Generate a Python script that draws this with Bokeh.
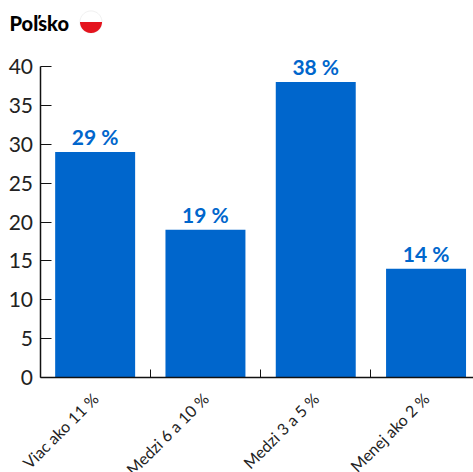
import math
from bokeh.plotting import figure
from bokeh.models import FixedTicker, Range1d, ColumnDataSource, LabelSet, PolyAnnotation, Label
from bokeh.core.properties import value
from bokeh.embed import file_html
from bokeh.resources import INLINE

categories = ["Viac ako 11 %", "Medzi 6 a 10 %", "Medzi 3 a 5 %", "Menej ako 2 %"]
values = [29, 19, 38, 14]
value_labels = ["29 %", "19 %", "38 %", "14 %"]
y_ticks = [0, 5, 10, 15, 20, 25, 30, 35, 40]
title = "Poľsko"

W, H = 473, 472
X0, Y0 = 39.5, 377        # pixel position of the axes' origin
BAND, UNIT = 110.3, 7.775 # pixels per category, pixels per y unit
centers = [i + 0.5 for i in range(len(categories))]
bounds = [1, 2, 3]

p = figure(width=W, height=H, output_backend="svg", toolbar_location=None,
           x_range=Range1d(-X0 / BAND, (W - X0) / BAND),
           y_range=Range1d(-(H - Y0) / UNIT, Y0 / UNIT),
           min_border=0, title=None, background_fill_color="white", border_fill_color="white",
           outline_line_color=None)
p.grid.visible = False

src = ColumnDataSource(dict(x=centers, top=values, lab=value_labels))
p.vbar(x="x", top="top", bottom=0, width=0.725, source=src, color="#0066CC", line_color=None)
p.add_layout(LabelSet(x="x", y="top", text="lab", source=src, text_align="center",
                      text_baseline="bottom", y_offset=3, text_color="#0066CC",
                      text_font=value("Lato"), text_font_size="21px", text_font_style="bold"))

xa = p.xaxis[0]
xa.fixed_location = 0
xa.bounds = (0, (W - X0) / BAND)
xa.ticker = FixedTicker(ticks=centers, minor_ticks=bounds)
xa.major_label_overrides = {c: l for c, l in zip(centers, categories)}
xa.major_label_orientation = math.pi / 4
xa.major_tick_line_color = None
xa.major_tick_in = 0
xa.major_tick_out = 0
xa.minor_tick_in = 8
xa.minor_tick_out = 0
xa.minor_tick_line_color = "#111111"
xa.axis_line_color = "#111111"
xa.axis_line_width = 1.5
xa.major_label_text_font = "Lato"
xa.major_label_text_font_size = "16px"
xa.major_label_text_color = "#222222"
xa.major_label_standoff = 18

ya = p.yaxis[0]
ya.fixed_location = 0
ya.bounds = (0, 40)
ya.ticker = FixedTicker(ticks=y_ticks)
ya.major_tick_in = 11
ya.major_tick_out = 0
ya.minor_tick_line_color = None
ya.major_tick_line_color = "#111111"
ya.axis_line_color = "#111111"
ya.axis_line_width = 1.5
ya.major_label_text_font = "Lato"
ya.major_label_text_font_size = "21px"
ya.major_label_text_color = "#222222"
ya.major_label_standoff = 7

p.add_layout(Label(x=9, y=450, x_units="screen", y_units="screen", text=title,
                   text_font="Lato Black", text_font_size="20px",
                   text_color="#000000", text_baseline="middle"))

cx, cy, r = 90.5, 450.5, 11
ang = [i * math.pi / 60 for i in range(121)]
p.add_layout(PolyAnnotation(xs=[cx + r * math.cos(a) for a in ang], ys=[cy + r * math.sin(a) for a in ang],
                            xs_units="screen", ys_units="screen", fill_color="white", fill_alpha=1,
                            line_color="#CCCCCC", line_width=1))
half = [math.pi + i * math.pi / 60 for i in range(61)]
p.add_layout(PolyAnnotation(xs=[cx + r * math.cos(a) for a in half], ys=[cy + r * math.sin(a) for a in half],
                            xs_units="screen", ys_units="screen", fill_color="#E4141E", fill_alpha=1,
                            line_color=None))

open("out.html", "w").write(file_html(p, INLINE))
